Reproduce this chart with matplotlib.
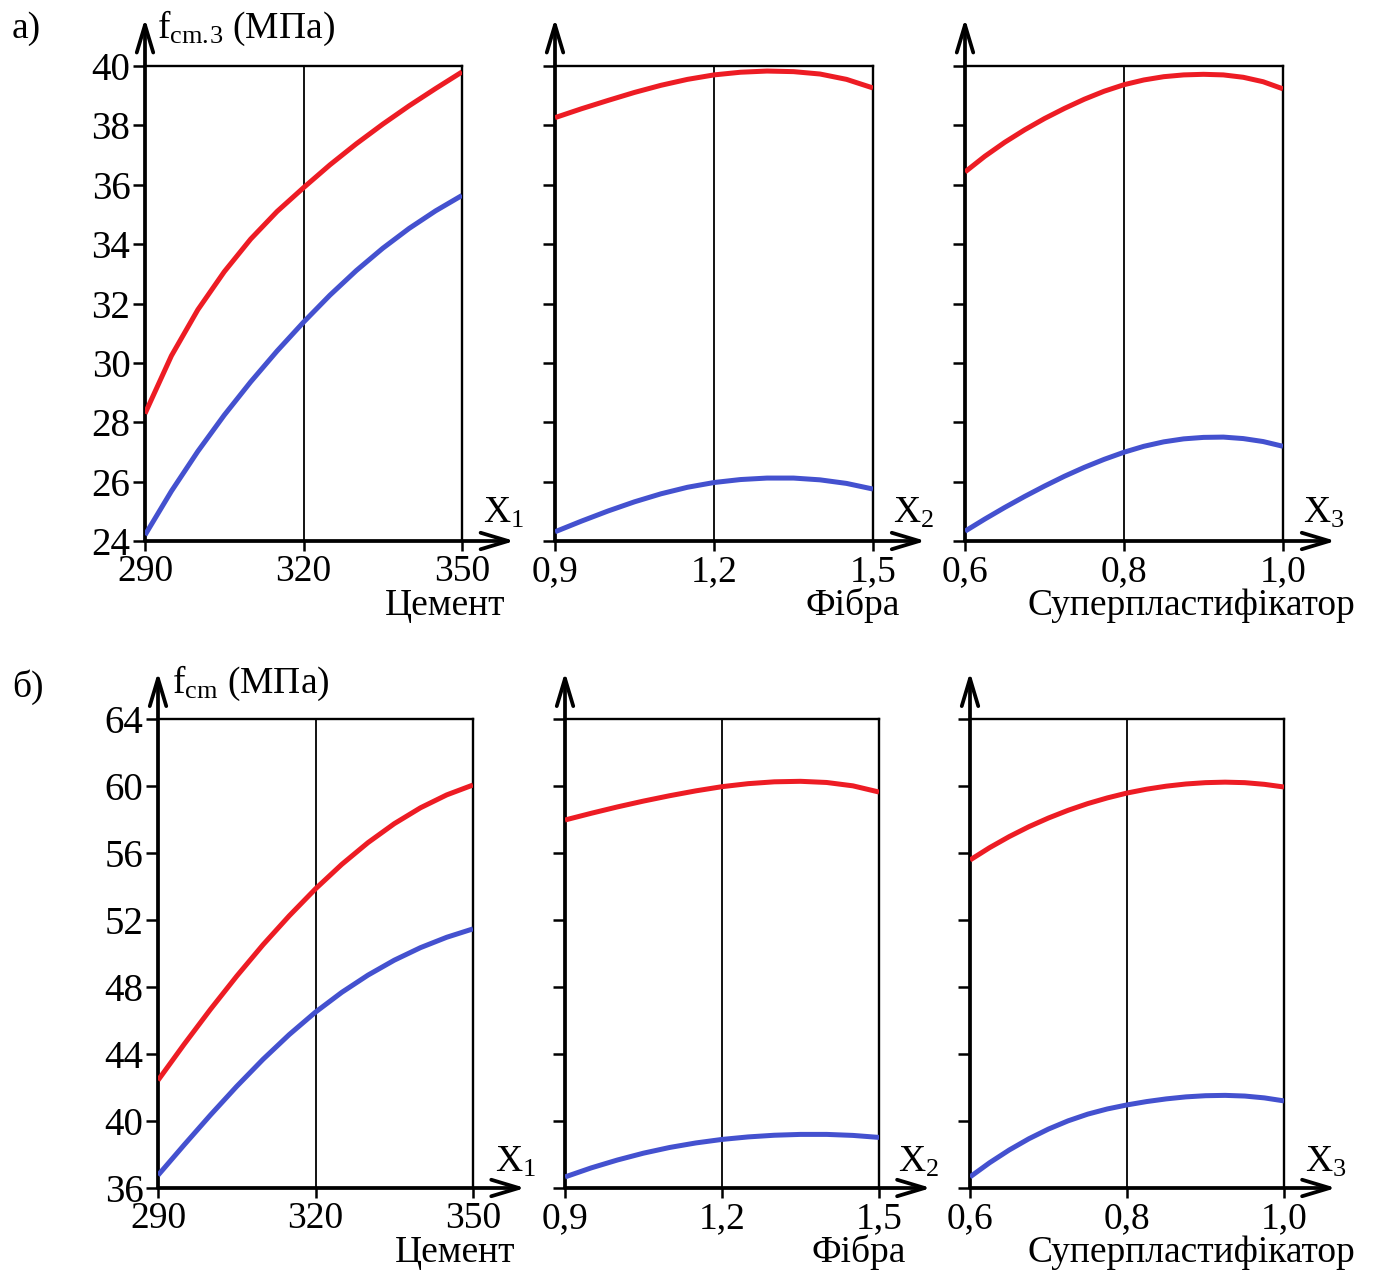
import matplotlib
matplotlib.use('Agg')
import matplotlib.pyplot as plt

plt.rcParams['font.family'] = ['Liberation Serif', 'DejaVu Serif']
plt.rcParams['mathtext.fontset'] = 'custom'
plt.rcParams['mathtext.rm'] = 'Liberation Serif'
plt.rcParams['mathtext.it'] = 'Liberation Serif:italic'
plt.rcParams['mathtext.bf'] = 'Liberation Serif:bold'

# ---------------- data ----------------
# factor X1 - cement
x_cement = [290, 295, 300, 305, 310, 315, 320, 325, 330, 335, 340, 345, 350]
# factor X2 - fibre
x_fibre = [0.90, 0.95, 1.00, 1.05, 1.10, 1.15, 1.20, 1.25, 1.30, 1.35, 1.40, 1.45, 1.50]
# factor X3 - superplasticizer
x_super = [0.600, 0.625, 0.650, 0.675, 0.700, 0.725, 0.750, 0.775, 0.800,
           0.825, 0.850, 0.875, 0.900, 0.925, 0.950, 0.975, 1.000]

# a) f_cm.3 (MPa)
a_cement_red = [28.29, 30.24, 31.79, 33.07, 34.17, 35.10, 35.90, 36.67, 37.38, 38.04, 38.66, 39.24, 39.80]
a_cement_blue = [24.20, 25.68, 27.02, 28.24, 29.36, 30.40, 31.37, 32.28, 33.11, 33.86, 34.53, 35.12, 35.64]
a_fibre_red = [38.26, 38.56, 38.84, 39.11, 39.35, 39.55, 39.70, 39.79, 39.83, 39.81, 39.73, 39.55, 39.26]
a_fibre_blue = [24.31, 24.67, 25.01, 25.32, 25.59, 25.81, 25.97, 26.07, 26.12, 26.12, 26.06, 25.94, 25.75]
a_super_red = [36.43, 36.96, 37.43, 37.85, 38.23, 38.57, 38.88, 39.15, 39.37,
               39.53, 39.64, 39.70, 39.72, 39.70, 39.62, 39.47, 39.23]
a_super_blue = [24.33, 24.74, 25.13, 25.50, 25.85, 26.18, 26.48, 26.75, 26.99,
                27.19, 27.34, 27.44, 27.49, 27.50, 27.45, 27.35, 27.19]

# b) f_cm (MPa)
b_cement_red = [42.43, 44.59, 46.67, 48.65, 50.52, 52.25, 53.86, 55.32, 56.62, 57.75, 58.70, 59.47, 60.06]
b_cement_blue = [36.76, 38.58, 40.36, 42.07, 43.68, 45.16, 46.50, 47.68, 48.71, 49.60, 50.35, 50.97, 51.47]
b_fibre_red = [57.97, 58.37, 58.75, 59.10, 59.42, 59.71, 59.96, 60.14, 60.25, 60.28, 60.21, 60.01, 59.64]
b_fibre_blue = [36.66, 37.20, 37.67, 38.08, 38.42, 38.69, 38.90, 39.05, 39.15, 39.20, 39.20, 39.14, 39.02]
b_super_red = [55.58, 56.32, 56.98, 57.57, 58.09, 58.55, 58.95, 59.29, 59.58,
               59.81, 59.99, 60.12, 60.20, 60.23, 60.20, 60.10, 59.94]
b_super_blue = [36.66, 37.51, 38.27, 38.94, 39.52, 40.01, 40.41, 40.72, 40.96,
                41.16, 41.32, 41.44, 41.51, 41.53, 41.49, 41.38, 41.20]

# ticks
xticks_cement = [290, 320, 350]
xticklabels_cement = ['290', '320', '350']
xticks_fibre = [0.9, 1.2, 1.5]
xticklabels_fibre = ['0,9', '1,2', '1,5']
xticks_super = [0.6, 0.8, 1.0]
xticklabels_super = ['0,6', '0,8', '1,0']
yticks_a = [24, 26, 28, 30, 32, 34, 36, 38, 40]
yticks_b = [36, 40, 44, 48, 52, 56, 60, 64]

factor_names = ['Цемент', 'Фібра', 'Суперпластифікатор']
factor_symbols = [r'$\mathrm{X}_{1}$', r'$\mathrm{X}_{2}$', r'$\mathrm{X}_{3}$']
row_letters = ['а)', 'б)']
row_ylabels = [r'$\mathrm{f}_{\mathrm{cm.\!3}}$ (МПа)', r'$\mathrm{f}_{\mathrm{cm}}$ (МПа)']

RED = '#ED1C24'
BLUE = '#4451CF'

W, H = 1374, 1271
fig = plt.figure(figsize=(W / 100, H / 100), dpi=100)

def fx(px):
    return px / W

def fy(py):
    return 1 - py / H

# axes boxes in pixels: (left, top, right, bottom)
boxes = [
    [(145, 66, 462, 541), (555, 66, 873, 541), (965, 66, 1283, 541)],
    [(158, 719, 473, 1188), (565, 719, 879, 1188), (970, 719, 1284, 1188)],
]

xs = [x_cement, x_fibre, x_super]
xticks = [xticks_cement, xticks_fibre, xticks_super]
xticklabels = [xticklabels_cement, xticklabels_fibre, xticklabels_super]
reds = [[a_cement_red, a_fibre_red, a_super_red], [b_cement_red, b_fibre_red, b_super_red]]
blues = [[a_cement_blue, a_fibre_blue, a_super_blue], [b_cement_blue, b_fibre_blue, b_super_blue]]
yticks = [yticks_a, yticks_b]

FS = 27
FSY = 28
for r in range(2):
    for c in range(3):
        l, t, rr, b = boxes[r][c]
        ax = fig.add_axes([fx(l), fy(b), fx(rr - l), (b - t) / H])
        ax.plot(xs[c], reds[r][c], color=RED, lw=3.6, zorder=4,
                solid_capstyle='butt', solid_joinstyle='round')
        ax.plot(xs[c], blues[r][c], color=BLUE, lw=3.6, zorder=4,
                solid_capstyle='butt', solid_joinstyle='round')
        ax.axvline(xticks[c][1], color='black', lw=1.3, zorder=2)
        ax.set_xlim(xticks[c][0], xticks[c][-1])
        ax.set_ylim(yticks[r][0], yticks[r][-1])
        ax.set_xticks(xticks[c])
        ax.set_xticklabels(xticklabels[c])
        ax.set_yticks(yticks[r])
        if c == 0:
            ax.set_yticklabels([str(v) for v in yticks[r]])
        else:
            ax.set_yticklabels([])
        ax.tick_params(axis='y', direction='out', length=8.5, width=1.8, labelsize=FSY, pad=2)
        ax.tick_params(axis='x', direction='out', length=7, width=1.8, labelsize=FS, pad=3)
        for s in ['top', 'right']:
            ax.spines[s].set_linewidth(1.7)
        for s in ['left', 'bottom']:
            ax.spines[s].set_visible(False)
        ax.set_facecolor('none')
        # axis arrows
        arrow_kw = dict(arrowstyle='->,head_length=0.9,head_width=0.27', lw=2.7,
                        color='black', shrinkA=0, shrinkB=0, mutation_scale=22)
        ax.annotate('', xy=(0, 1.10), xytext=(0, 0), xycoords='axes fraction',
                    textcoords='axes fraction', arrowprops=arrow_kw, annotation_clip=False)
        ax.annotate('', xy=(1.166, 0), xytext=(0, 0), xycoords='axes fraction',
                    textcoords='axes fraction', arrowprops=arrow_kw, annotation_clip=False)

# factor symbols near arrow tips
sym_pos = [[(483, 523), (893, 523), (1303, 523)], [(495, 1172), (898, 1172), (1305, 1172)]]
name_pos = [[(505, 615), (900, 615), (1355, 615)], [(515, 1262), (906, 1262), (1355, 1262)]]
for r in range(2):
    for c in range(3):
        sx, sy = sym_pos[r][c]
        fig.text(fx(sx), fy(sy), factor_symbols[c], fontsize=FS, ha='left', va='baseline')
        nx, ny = name_pos[r][c]
        fig.text(fx(nx), fy(ny), factor_names[c], fontsize=FS, ha='right', va='baseline')

# row letters and y labels
fig.text(fx(12), fy(38), row_letters[0], fontsize=FS, ha='left', va='baseline')
fig.text(fx(12), fy(697), row_letters[1], fontsize=FS, ha='left', va='baseline')
fig.text(fx(157), fy(38), row_ylabels[0], fontsize=FS, ha='left', va='baseline')
fig.text(fx(172), fy(693), row_ylabels[1], fontsize=FS, ha='left', va='baseline')

fig.savefig('out.png', dpi=100, facecolor='white')
